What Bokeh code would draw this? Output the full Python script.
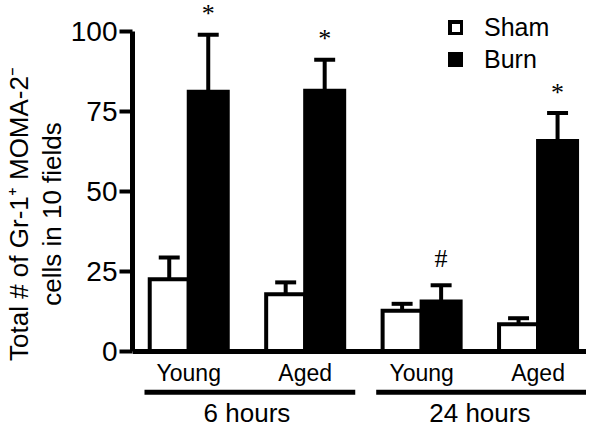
from bokeh.plotting import figure
from bokeh.models import Range1d, FixedTicker, Span, Legend, LegendItem, ColumnDataSource
from bokeh.core.properties import value
from bokeh.embed import file_html
from bokeh.resources import INLINE

# ---- data ----
time_groups = ["6 hours", "24 hours"]
ages = ["Young", "Aged", "Young", "Aged"]
sham_mean = [22.6, 17.9, 12.7, 8.5]
sham_err = [6.8, 3.7, 2.2, 1.9]
burn_mean = [81.2, 81.5, 15.6, 65.8]
burn_err = [17.8, 9.7, 5.1, 8.7]
burn_marks = ["*", "*", "#", "*"]
y_ticks = [0, 25, 50, 75, 100]
y_label = "Total # of Gr-1\u207a MOMA-2\u207b\ncells in 10 fields"

# ---- layout ----
W = 0.335          # bar width (category units)
CAP = 0.09         # half width of error caps
idx = list(range(len(ages)))
x_sham = [i - W / 2 for i in idx]
x_burn = [i + W / 2 for i in idx]

FONT = "Liberation Sans"

p = figure(width=586, height=427, output_backend="svg", toolbar_location=None,
           x_range=Range1d(-0.483, 3.416), y_range=Range1d(-23.75, 109.69),
           x_axis_location=None, y_axis_location="left",
           min_border_left=131, min_border_right=0, min_border_top=0, min_border_bottom=0)
p.outline_line_color = None
p.grid.visible = False
p.background_fill_color = "white"
p.border_fill_color = "white"

# y axis
ax = p.yaxis[0]
ax.ticker = FixedTicker(ticks=y_ticks)
ax.bounds = (0, 100)
ax.axis_line_width = 5
ax.axis_line_color = "black"
ax.major_tick_line_width = 4
ax.major_tick_line_color = "black"
ax.major_tick_out = 13
ax.major_tick_in = 0
ax.minor_tick_line_color = None
ax.major_label_text_font = FONT
ax.major_label_text_font_size = "28px"
ax.major_label_text_color = "black"
ax.major_label_standoff = 2
ax.axis_label = y_label
ax.axis_label_text_font = FONT
ax.axis_label_text_font_size = "26px"
ax.axis_label_text_font_style = "normal"
ax.axis_label_text_color = "black"
ax.axis_label_text_line_height = 1.1
ax.axis_label_standoff = 1

# x baseline at 0
p.add_layout(Span(location=0, dimension="width", line_color="black", line_width=5))

# error bars (upper only)
sham_top = [m + e for m, e in zip(sham_mean, sham_err)]
burn_top = [m + e for m, e in zip(burn_mean, burn_err)]
for xs, mean, top in ((x_sham, sham_mean, sham_top), (x_burn, burn_mean, burn_top)):
    p.segment(x0=xs, y0=mean, x1=xs, y1=top, line_color="black", line_width=4)
    p.segment(x0=[x - CAP for x in xs], y0=top, x1=[x + CAP for x in xs], y1=top,
              line_color="black", line_width=4)

r_sham = p.vbar(x=x_sham, width=W, top=sham_mean, bottom=0, fill_color="white",
                line_color="black", line_width=4, line_join="miter")
r_burn = p.vbar(x=x_burn, width=W, top=burn_mean, bottom=0, fill_color="black",
                line_color="black", line_width=4, line_join="miter")

# significance marks
marks = ColumnDataSource(dict(x=x_burn, y=burn_top, t=burn_marks,
                              off=[-21 if m == "*" else -27 for m in burn_marks]))
p.text(x="x", y="y", text="t", y_offset="off", source=marks, text_align="center",
       text_baseline="alphabetic", text_font=value("Liberation Serif"),
       text_font_size="26px", text_color="black")

# category labels below baseline
p.text(x=idx, y=[-6.8] * len(idx), text=ages, text_align="center",
       text_baseline="alphabetic", text_font=value(FONT), text_font_size="23px",
       text_color="black")

# group underlines and labels
g_first = [0, 2]
g_last = [1, 3]
g_center = [(a + b) / 2 for a, b in zip(g_first, g_last)]
p.segment(x0=[-0.38, 1.61], y0=[-12.7, -12.7], x1=[1.43, 3.54], y1=[-12.7, -12.7],
          line_color="black", line_width=5)
p.text(x=g_center, y=[-19.35, -19.35], text=time_groups, text_align="center",
       text_baseline="alphabetic", text_font=value(FONT), text_font_size="26px",
       text_color="black")

legend = Legend(items=[LegendItem(label="Sham", renderers=[r_sham]),
                       LegendItem(label="Burn", renderers=[r_burn])],
                location=(316, 353), orientation="vertical",
                glyph_width=15, glyph_height=15, label_height=30, label_standoff=21,
                spacing=2, padding=0, margin=0, border_line_color=None,
                background_fill_alpha=0, label_text_font=FONT,
                label_text_font_size="25px", label_text_color="black")
p.add_layout(legend)

open("out.html", "w").write(file_html(p, INLINE))
